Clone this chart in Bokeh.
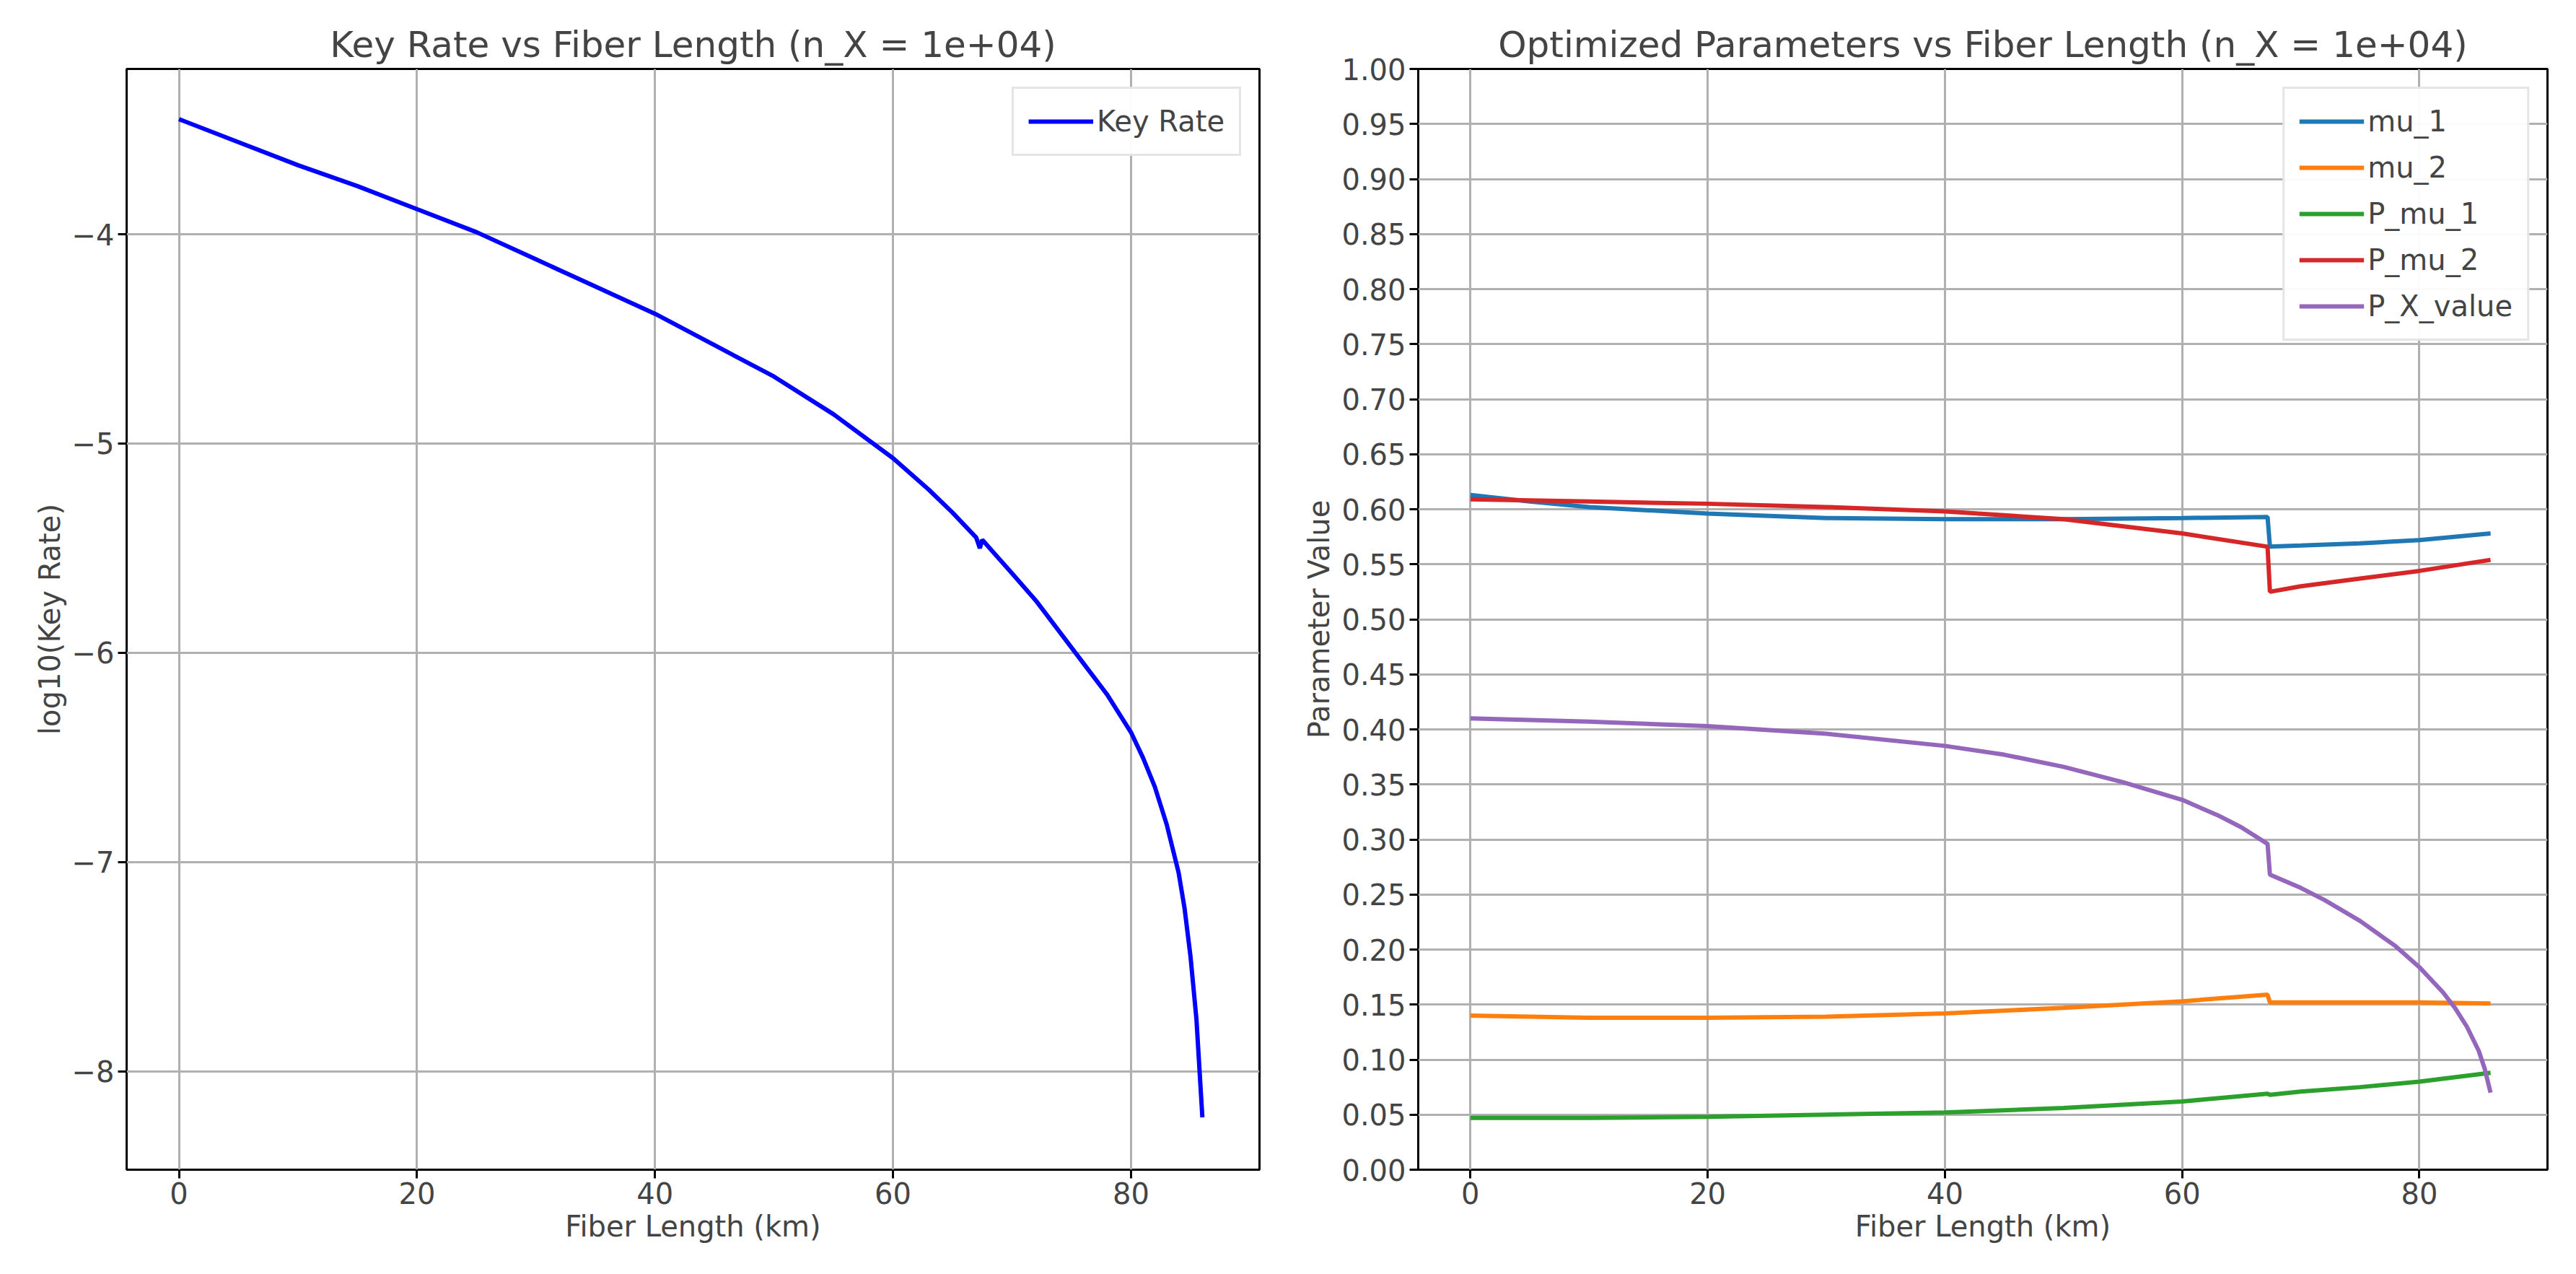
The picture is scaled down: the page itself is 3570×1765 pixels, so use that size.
from bokeh.embed import file_html
from bokeh.resources import INLINE
from bokeh.layouts import row
from bokeh.models import FixedTicker, Legend, LegendItem, Range1d, NumeralTickFormatter
from bokeh.plotting import figure

# Key rate curve
length_km = [0, 5, 10, 15, 20, 25, 30, 35, 40, 45, 50, 55, 60, 63, 65, 67.0, 67.3, 67.5, 70, 72, 74, 76,
             78, 80, 81, 82, 83, 84, 84.5, 85, 85.5, 86]
log_key_rate = [-3.45, -3.56, -3.67, -3.77, -3.88, -3.99, -4.12, -4.25, -4.38, -4.53, -4.68, -4.86, -5.07,
                -5.22, -5.33, -5.45, -5.50, -5.46, -5.62, -5.75, -5.90, -6.05, -6.20, -6.38, -6.50, -6.64,
                -6.82, -7.05, -7.22, -7.45, -7.75, -8.22]

# Optimized parameters
param_km = [0, 5, 10, 20, 30, 40, 50, 60, 67.2, 67.4, 70, 75, 80, 86]
mu_1 = [0.613, 0.607, 0.602, 0.596, 0.592, 0.591, 0.591, 0.592, 0.593, 0.566, 0.567, 0.569, 0.572, 0.578]
mu_2 = [0.140, 0.139, 0.138, 0.138, 0.139, 0.142, 0.147, 0.153, 0.159, 0.152, 0.152, 0.152, 0.152, 0.151]
p_mu_1 = [0.047, 0.047, 0.047, 0.048, 0.050, 0.052, 0.056, 0.062, 0.069, 0.068, 0.071, 0.075, 0.080, 0.088]
p_mu_2 = [0.609, 0.608, 0.607, 0.605, 0.602, 0.598, 0.591, 0.578, 0.566, 0.525, 0.530, 0.537, 0.544, 0.554]
px_km = [0, 10, 20, 30, 40, 45, 50, 55, 60, 63, 65, 67.2, 67.4, 70, 72, 75, 78, 80, 82, 83, 84, 85, 85.5, 86]
p_x_value = [0.410, 0.407, 0.403, 0.396, 0.385, 0.377, 0.366, 0.352, 0.336, 0.322, 0.311, 0.296, 0.268,
             0.256, 0.245, 0.226, 0.203, 0.184, 0.161, 0.147, 0.130, 0.108, 0.092, 0.070]

x_ticks = [0, 20, 40, 60, 80]
left_y_ticks = [-4, -5, -6, -7, -8]
right_y_ticks = [round(i * 0.05, 2) for i in range(21)]

FONT = "DejaVu Sans"


def style(p, title):
    p.title.text = title
    p.title.text_font = FONT
    p.title.text_font_size = "50px"
    p.title.text_font_style = "normal"
    p.title.align = "center"
    p.outline_line_color = "black"
    p.outline_line_width = 3
    for ax in (p.xaxis, p.yaxis):
        ax.axis_label_text_font = FONT
        ax.axis_label_text_font_size = "40px"
        ax.axis_label_text_font_style = "normal"
        ax.major_label_text_font = FONT
        ax.major_label_text_font_size = "40px"
        ax.minor_tick_line_color = None
        ax.axis_line_color = None
        ax.major_tick_line_width = 3
        ax.major_tick_out = 12
        ax.major_tick_in = 0
    p.xaxis.axis_label = "Fiber Length (km)"
    p.xaxis.ticker = FixedTicker(ticks=x_ticks)
    p.grid.grid_line_color = "#b0b0b0"
    p.grid.grid_line_width = 3


def make_legend(items):
    return Legend(items=items, location="top_right", label_text_font=FONT, label_text_font_size="40px",
                  glyph_width=90, label_height=50, glyph_height=50, spacing=14,
                  border_line_color="#cccccc", border_line_width=3, padding=20, margin=25)


left = figure(width=1775, height=1745, output_backend="svg", toolbar_location=None,
              x_range=Range1d(-4.4, 90.8), y_range=Range1d(-8.47, -3.21),
              min_border_left=175, min_border_right=30, min_border_top=95, min_border_bottom=125)
style(left, "Key Rate vs Fiber Length (n_X = 1e+04)")
left.yaxis.axis_label = "log10(Key Rate)"
left.yaxis.ticker = FixedTicker(ticks=left_y_ticks)
left.yaxis.major_label_overrides = {t: "\u2212" + str(-t) for t in left_y_ticks}
kr = left.line(length_km, log_key_rate, line_color="blue", line_width=6)
left.add_layout(make_legend([LegendItem(label="Key Rate", renderers=[kr])]))

right = figure(width=1795, height=1745, output_backend="svg", toolbar_location=None,
               x_range=Range1d(-4.4, 90.8), y_range=Range1d(0, 1),
               min_border_left=190, min_border_right=40, min_border_top=95, min_border_bottom=125)
style(right, "Optimized Parameters vs Fiber Length (n_X = 1e+04)")
right.yaxis.axis_label = "Parameter Value"
right.yaxis.ticker = FixedTicker(ticks=right_y_ticks)
right.yaxis.formatter = NumeralTickFormatter(format="0.00")
series = [("mu_1", param_km, mu_1, "#1f77b4"),
          ("mu_2", param_km, mu_2, "#ff7f0e"),
          ("P_mu_1", param_km, p_mu_1, "#2ca02c"),
          ("P_mu_2", param_km, p_mu_2, "#d62728"),
          ("P_X_value", px_km, p_x_value, "#9467bd")]
items = []
for name, xs, ys, color in series:
    r = right.line(xs, ys, line_color=color, line_width=6)
    items.append(LegendItem(label=name, renderers=[r]))
right.add_layout(make_legend(items))

p = row(left, right)
open("out.html", "w").write(file_html(p, INLINE))
